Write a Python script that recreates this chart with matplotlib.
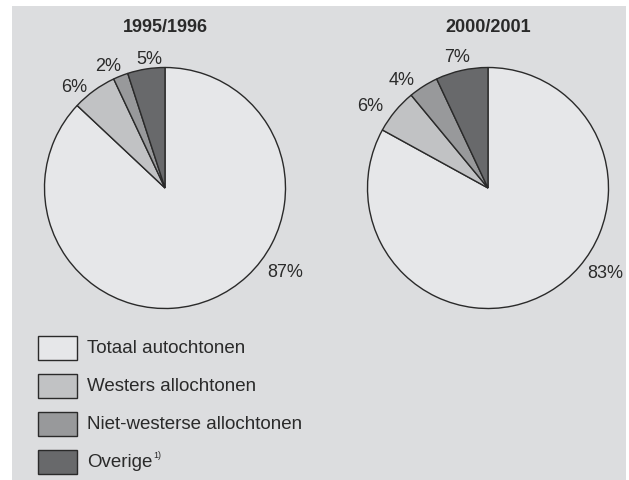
import matplotlib
matplotlib.use("Agg")
import matplotlib.pyplot as plt
from matplotlib.patches import Rectangle
import numpy as np

plt.rcParams['font.family'] = ['Liberation Sans', 'DejaVu Sans']
plt.rcParams['mathtext.fontset'] = 'custom'
plt.rcParams['mathtext.rm'] = 'Liberation Sans'

# data
categories = ['Totaal autochtonen', 'Westers allochtonen',
              'Niet-westerse allochtonen', 'Overige']
years = ['1995/1996', '2000/2001']
share_1995 = [87, 6, 2, 5]
share_2000 = [83, 6, 4, 7]

colors = ['#e6e7e9', '#c1c2c4', '#98999b', '#68696b']
bg = '#dcdddf'
txt = '#2a2a2a'
edge = '#2a2a2a'

W, H = 629, 481
fig = plt.figure(figsize=(W / 100, H / 100), dpi=100)

# background panel + legend drawn in pixel coordinates
ax_bg = fig.add_axes([0, 0, 1, 1])
ax_bg.set_xlim(0, W)
ax_bg.set_ylim(H, 0)
ax_bg.axis('off')
ax_bg.add_patch(Rectangle((12, 7), 614, H - 7, facecolor=bg, edgecolor='none'))

for i, (name, c) in enumerate(zip(categories, colors)):
    top = 337 + i * 38
    ax_bg.add_patch(Rectangle((38, top), 39, 24, facecolor=c, edgecolor=edge, lw=1))
    t = ax_bg.text(87, top + 12, name, fontsize=13.5, color=txt, va='center', ha='left')
    if i == 3:
        # footnote marker
        fig.canvas.draw()
        bb = t.get_window_extent()
        ax_bg.text(bb.x1 / fig.dpi * 100 + 1, top + 5, '1)', fontsize=6.5,
                   color=txt, va='center', ha='left')

# pies
r_px = 120.5
lim = 1.3
size = 2 * lim * r_px
centers = [(165, 189), (488, 189)]
# label placement (angle in degrees, distance in radii), per wedge
label_angle = [[-34.7, 131.7, 115, 97], [-35.7, 145, 128.5, 103.3]]
label_dist = [[1.21, 1.13, 1.12, 1.08], [1.2, 1.19, 1.15, 1.12]]

for k, (year, vals) in enumerate(zip(years, [share_1995, share_2000])):
    cx, cy = centers[k]
    ax = fig.add_axes([(cx - size / 2) / W, 1 - (cy + size / 2) / H, size / W, size / H])
    ax.set_facecolor('none')
    wedges, texts = ax.pie(vals, colors=colors, startangle=90, counterclock=False,
                           labels=[f'{v}%' for v in vals], labeldistance=1.13,
                           wedgeprops=dict(edgecolor=edge, linewidth=1),
                           textprops=dict(fontsize=13, color=txt))
    for t, ang, d in zip(texts, label_angle[k], label_dist[k]):
        a = np.deg2rad(ang)
        t.set_position((d * np.cos(a), d * np.sin(a)))
        t.set_ha('center')
        t.set_va('center')
    ax.set_xlim(-lim, lim)
    ax.set_ylim(-lim, lim)
    ax.set_aspect('equal')
    ax.text(0, 1.337, year, fontsize=13, fontweight='bold', color=txt,
            ha='center', va='center', clip_on=False)

fig.savefig('out.png', dpi=100, facecolor='white')
